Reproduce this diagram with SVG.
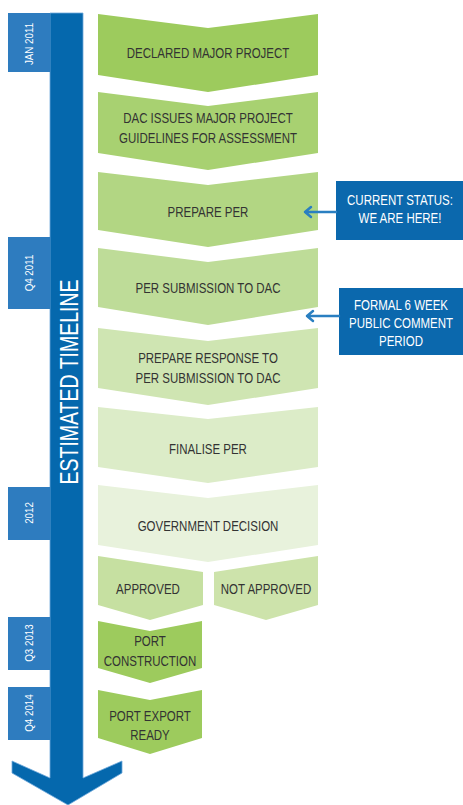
<svg xmlns="http://www.w3.org/2000/svg" width="463" height="805" viewBox="0 0 463 805">
<style>
.t{font-family:"Liberation Sans",Arial,sans-serif;font-size:14px;fill:#333;text-anchor:middle}
.w{font-family:"Liberation Sans",Arial,sans-serif;fill:#fff;text-anchor:middle}
.tab{fill:#2e7cbf}
.co{fill:#0b68ad}
.ar{stroke:#2a7fc1;stroke-width:2.5;fill:none;stroke-linecap:round;stroke-linejoin:round}
</style>
<rect width="463" height="805" fill="#fff"/>
<g id="timeline">
<polygon points="50,13 83,13 83,778 122,761 122,773 68,805 12,773 12,761 50,778" fill="#0568ad" stroke="#6fa8da" stroke-width="0.8"/>
<text class="w" font-size="25" transform="translate(78,382) rotate(-90) scale(0.78,1)">ESTIMATED TIMELINE</text>
</g>
<g id="tab-jan2011"><rect class="tab" x="8" y="13" width="42" height="59"/><text class="w" font-size="11.5" transform="translate(33,44) rotate(-90) scale(0.85,1)">JAN 2011</text></g>
<g id="tab-q42011"><rect class="tab" x="8" y="237" width="42" height="72"/><text class="w" font-size="11.5" transform="translate(33,273) rotate(-90) scale(0.85,1)">Q4 2011</text></g>
<g id="tab-2012"><rect class="tab" x="8" y="487" width="42" height="53"/><text class="w" font-size="11.5" transform="translate(33,513) rotate(-90) scale(0.85,1)">2012</text></g>
<g id="tab-q32013"><rect class="tab" x="8" y="617" width="42" height="53"/><text class="w" font-size="11.5" transform="translate(33,643) rotate(-90) scale(0.85,1)">Q3 2013</text></g>
<g id="tab-q42014"><rect class="tab" x="8" y="687" width="42" height="53"/><text class="w" font-size="11.5" transform="translate(33,713) rotate(-90) scale(0.85,1)">Q4 2014</text></g>

<g id="step1"><polygon points="98,14 208,28 318,14 318,75 208,92 98,75" fill="#9dcb5d"/><text class="t" transform="matrix(0.82,0,0,1,208,58)">DECLARED MAJOR PROJECT</text></g>
<g id="step2"><polygon points="98,92 208,106 318,92 318,153 208,170 98,153" fill="#a8d171"/><text class="t" transform="matrix(0.82,0,0,1,208,123)">DAC ISSUES MAJOR PROJECT</text><text class="t" transform="matrix(0.82,0,0,1,208,143)">GUIDELINES FOR ASSESSMENT</text></g>
<g id="step3"><polygon points="98,172 208,185 318,172 318,230 208,247 98,230" fill="#b2d683"/><text class="t" transform="matrix(0.82,0,0,1,208,217)">PREPARE PER</text></g>
<g id="step4"><polygon points="98,248 208,262 318,248 318,307 208,325 98,307" fill="#bedc98"/><text class="t" transform="matrix(0.82,0,0,1,208,293)">PER SUBMISSION TO DAC</text></g>
<g id="step5"><polygon points="98,328 208,341 318,328 318,388 208,405 98,388" fill="#cfe5b2"/><text class="t" transform="matrix(0.82,0,0,1,208,363)">PREPARE RESPONSE TO</text><text class="t" transform="matrix(0.82,0,0,1,208,383)">PER SUBMISSION TO DAC</text></g>
<g id="step6"><polygon points="98,407 208,419 318,407 318,467 208,483 98,467" fill="#dcecc8"/><text class="t" transform="matrix(0.82,0,0,1,208,454)">FINALISE PER</text></g>
<g id="step7"><polygon points="98,485 208,498 318,485 318,545 208,562 98,545" fill="#e8f2dc"/><text class="t" transform="matrix(0.82,0,0,1,208,531)">GOVERNMENT DECISION</text></g>
<g id="approved"><polygon points="98,556 203,572 203,605 150,620 98,605" fill="#c6e0a1"/><text class="t" transform="matrix(0.82,0,0,1,148,594)">APPROVED</text></g>
<g id="not-approved"><polygon points="214,572 318,556 318,605 266,620 214,605" fill="#cde3ab"/><text class="t" transform="matrix(0.82,0,0,1,266,594)">NOT APPROVED</text></g>
<g id="port-construction"><polygon points="98,621 150,631 202,621 202,668 150,683 98,668" fill="#9dcb5d"/><text class="t" transform="matrix(0.82,0,0,1,150,646)">PORT</text><text class="t" transform="matrix(0.82,0,0,1,150,666)">CONSTRUCTION</text></g>
<g id="port-export"><polygon points="98,690 150,700 202,690 202,738 150,754 98,738" fill="#9dcb5d"/><text class="t" transform="matrix(0.82,0,0,1,150,721)">PORT EXPORT</text><text class="t" transform="matrix(0.82,0,0,1,150,740)">READY</text></g>

<g id="callout-status"><rect class="co" x="336" y="181" width="127" height="59"/><text class="w" font-size="14" transform="matrix(0.82,0,0,1,400,205)">CURRENT STATUS:</text><text class="w" font-size="14" transform="matrix(0.82,0,0,1,400,223)">WE ARE HERE!</text></g>
<g id="callout-comment"><rect class="co" x="339" y="288" width="124" height="67"/><text class="w" font-size="14" transform="matrix(0.82,0,0,1,401,310)">FORMAL 6 WEEK</text><text class="w" font-size="14" transform="matrix(0.82,0,0,1,401,328)">PUBLIC COMMENT</text><text class="w" font-size="14" transform="matrix(0.82,0,0,1,401,346)">PERIOD</text></g>

<g id="connectors">
<path class="ar" d="M336,212 H305 M311,207 L305,212 L311,217"/>
<path class="ar" d="M339,316 H307 M313,311 L307,316 L313,321"/>
</g>
</svg>
